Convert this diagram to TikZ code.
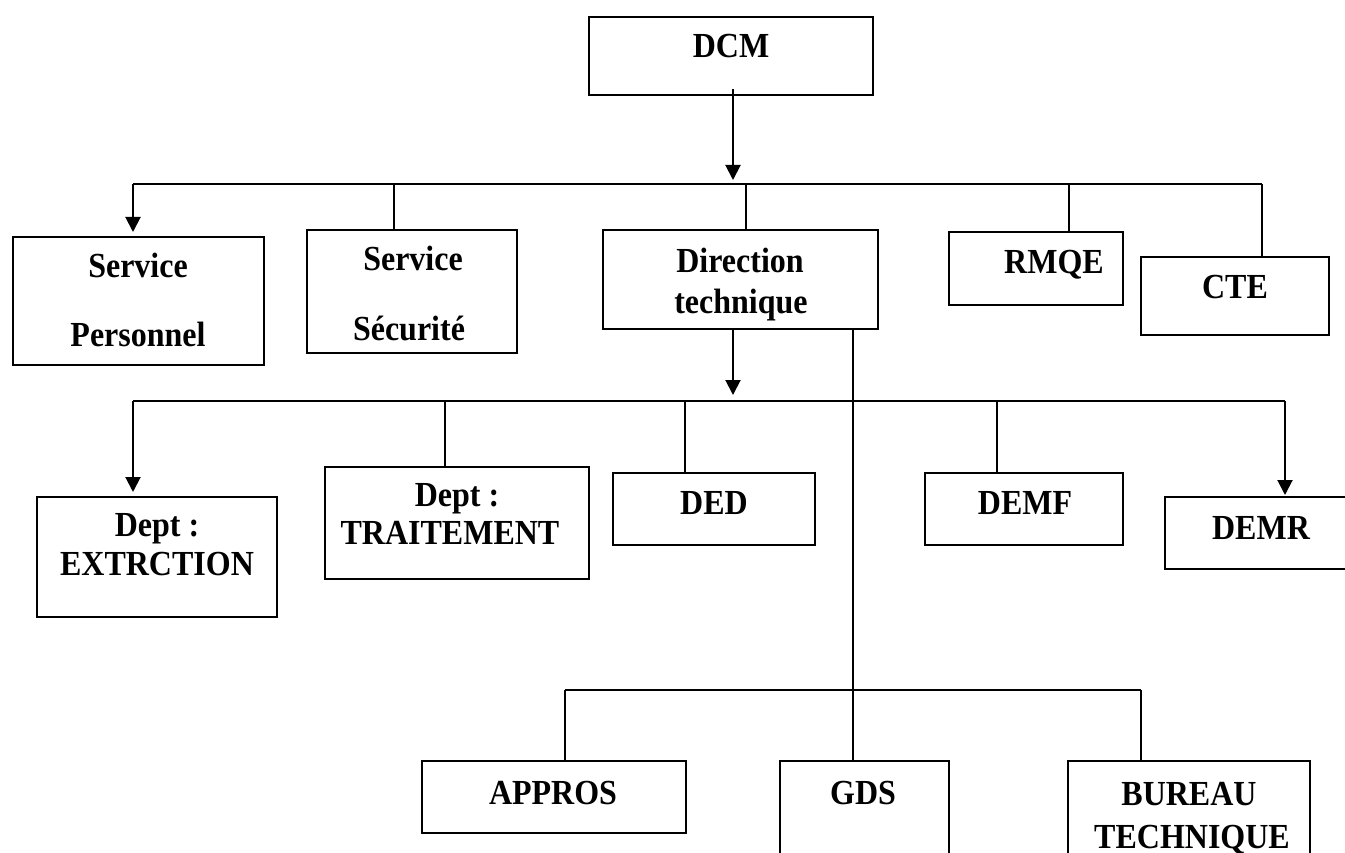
\documentclass[tikz,border=0pt]{standalone}
\usepackage{graphicx}
\usepackage{fontspec}
\setmainfont{Liberation Serif}
\usetikzlibrary{arrows.meta}
% slightly tall bold lettering for the box captions
\newcommand\captext[1]{\scalebox{1}[1.1]{#1}}
\begin{document}
\begin{tikzpicture}[x=1pt,y=-1pt,
  box/.style={draw, line width=2pt, rectangle, inner sep=0pt, outer sep=0pt},
  lbl/.style={anchor=base, inner sep=0pt, font=\fontsize{32}{38}\selectfont\bfseries},
  link/.style={line width=2pt},
  arr/.style={link, -{Triangle[length=15pt,width=15pt]}}]
\useasboundingbox (0,0) rectangle (1345,853);
\clip (0,0) rectangle (1345,853);

% ---- boxes ----
\node[box, minimum width=284pt,   minimum height=78pt]  (dcm)  at (731,56) {};
\node[box, minimum width=251.5pt, minimum height=128pt] (per)  at (138.25,301) {};
\node[box, minimum width=210pt,   minimum height=123pt] (sec)  at (412,291.5) {};
\node[box, minimum width=275pt,   minimum height=99pt]  (dir)  at (740.5,279.5) {};
\node[box, minimum width=174pt,   minimum height=73pt]  (rmqe) at (1036,268.5) {};
\node[box, minimum width=188pt,   minimum height=78pt]  (cte)  at (1235,296) {};
\node[box, minimum width=240.4pt, minimum height=120pt] (ext)  at (156.8,557) {};
\node[box, minimum width=264.5pt, minimum height=112pt] (tra)  at (456.75,523) {};
\node[box, minimum width=202pt,   minimum height=72pt]  (ded)  at (714,509) {};
\node[box, minimum width=198pt,   minimum height=72pt]  (demf) at (1024,509) {};
\node[box, minimum width=205pt,   minimum height=72pt]  (demr) at (1267.5,533) {};
\node[box, minimum width=264pt,   minimum height=72pt]  (app)  at (554,797) {};
\node[box, minimum width=169pt,   minimum height=129pt] (gds)  at (864.5,825.5) {};
\node[box, minimum width=242pt,   minimum height=129pt] (bur)  at (1189,825.5) {};

% ---- labels ----
\node[lbl] (t-dcm)  at (731,58)   {\captext{DCM}};
\node[lbl] (t-per1) at (138,278)  {\captext{Service}};
\node[lbl] (t-per2) at (138,346)  {\captext{Personnel}};
\node[lbl] (t-sec1) at (413,271)  {\captext{Service}};
\node[lbl] (t-sec2) at (409,341)  {\captext{Sécurité}};
\node[lbl] (t-dir1) at (740,273)  {\captext{Direction}};
\node[lbl] (t-dir2) at (741,314)  {\captext{technique}};
\node[lbl] (t-rmqe) at (1054,274) {\captext{RMQE}};
\node[lbl] (t-cte)  at (1235,299) {\captext{CTE}};
\node[lbl] (t-ext1) at (157,536)  {\captext{Dept :}};
\node[lbl] (t-ext2) at (157,575)  {\captext{EXTRCTION}};
\node[lbl] (t-tra1) at (457,506)  {\captext{Dept :}};
\node[lbl] (t-tra2) at (450,544)  {\captext{TRAITEMENT}};
\node[lbl] (t-ded)  at (714,514)  {\captext{DED}};
\node[lbl] (t-demf) at (1025,514) {\captext{DEMF}};
\node[lbl] (t-demr) at (1261,539) {\captext{DEMR}};
\node[lbl] (t-app)  at (553,804)  {\captext{APPROS}};
\node[lbl] (t-gds)  at (863,804)  {\captext{GDS}};
\node[lbl] (t-bur1) at (1189,805) {\captext{BUREAU}};
\node[lbl] (t-bur2) at (1192,848) {\captext{TECHNIQUE}};

% ---- first level bus ----
\coordinate (j-per)  at (133,184.5);
\coordinate (j-sec)  at (394,184.5);
\coordinate (j-dir)  at (746,184.5);
\coordinate (j-rmqe) at (1069,184.5);
\coordinate (j-cte)  at (1262,184.5);
\draw[link] (j-per) -- (j-cte);
\draw[arr, shorten >=4.5pt] ([xshift=2pt,yshift=6pt]dcm.south) -- ([xshift=2pt]dcm.south |- j-per);
\draw[arr, shorten >=5pt] (j-per) -- (j-per |- per.north);
\draw[link] (j-sec) -- (j-sec |- sec.north);
\draw[link] (j-dir) -- (j-dir |- dir.north);
\draw[link] (j-rmqe) -- (j-rmqe |- rmqe.north);
\draw[link] (j-cte) -- (j-cte |- cte.north);

% ---- departments bus ----
\coordinate (k-ext)  at (133,401);
\coordinate (k-tra)  at (445,401);
\coordinate (k-ded)  at (685,401);
\coordinate (k-demf) at (997,401);
\coordinate (k-demr) at (1285,401);
\draw[link] (k-ext) -- (k-demr);
\draw[arr, shorten >=6pt] ([xshift=-7.5pt]dir.south) -- ([xshift=-7.5pt]dir.south |- k-ext);
\draw[arr, shorten >=5pt] (k-ext) -- (k-ext |- ext.north);
\draw[link] (k-tra) -- (k-tra |- tra.north);
\draw[link] (k-ded) -- (k-ded |- ded.north);
\draw[link] (k-demf) -- (k-demf |- demf.north);
\draw[arr, shorten >=2pt] (k-demr) -- (k-demr |- demr.north);

% ---- services bus ----
\coordinate (m-app) at (565,690);
\coordinate (m-bur) at (1141,690);
\draw[link] ([xshift=112.5pt]dir.south) -- ([xshift=112.5pt]dir.south |- gds.north);
\draw[link] (m-app) -- (m-bur);
\draw[link] (m-app) -- (m-app |- app.north);
\draw[link] (m-bur) -- (m-bur |- bur.north);
\end{tikzpicture}
\end{document}
